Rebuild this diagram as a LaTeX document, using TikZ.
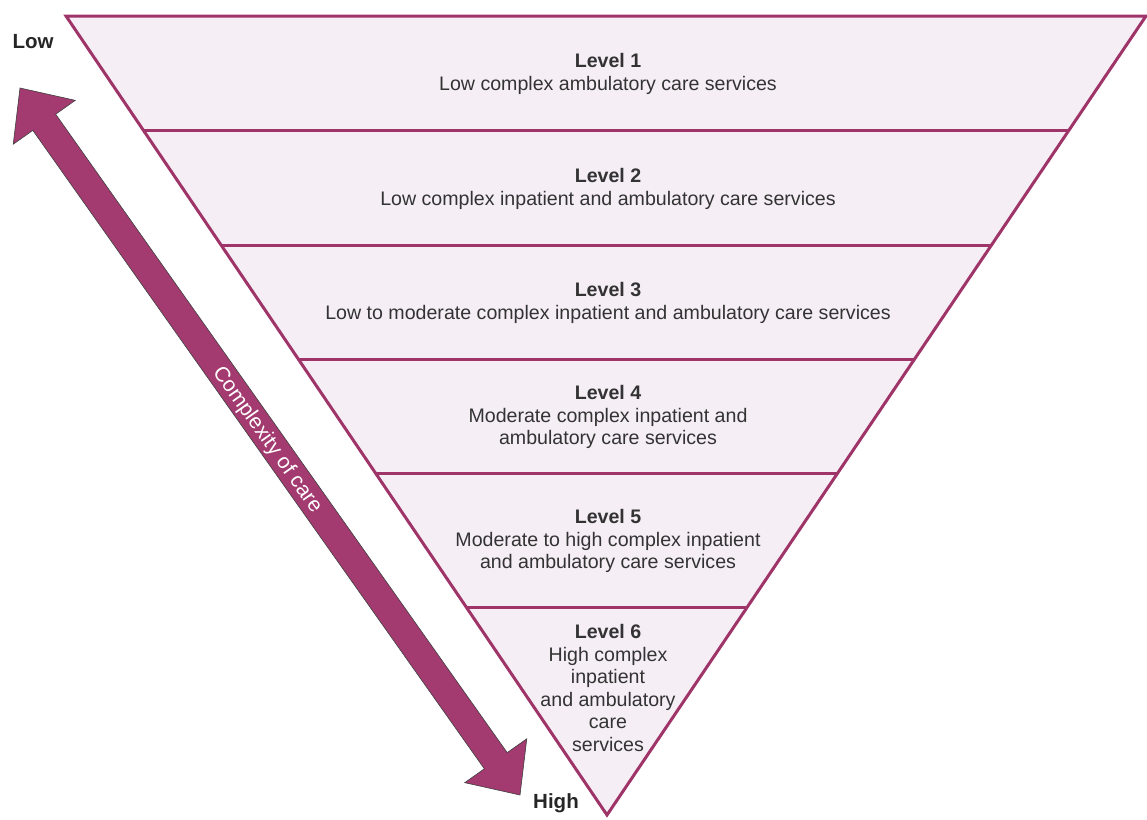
\documentclass[tikz,border=0pt]{standalone}
\usepackage{fontspec}
\setmainfont{Liberation Sans}
\usetikzlibrary{calc}
\definecolor{careline}{HTML}{9E3468}
\definecolor{carefill}{HTML}{F6EEF5}
\definecolor{carearrow}{HTML}{A33B70}
\definecolor{caretext}{HTML}{333333}
\tikzset{
  levelline/.style={draw=careline, line width=3pt},
  leveltext/.style={align=center, text=caretext, inner sep=0pt,
    font=\fontsize{19.6}{22.5}\selectfont},
  endlabel/.style={text=black!85, inner sep=0pt,
    font=\fontsize{20.5}{22}\selectfont\bfseries},
}
\begin{document}
\begin{tikzpicture}[x=1pt, y=-1pt]
        \useasboundingbox (0,0) rectangle (1147,819);
        % coordinates for the triangle
        \coordinate (topleft)  at (66,16);
        \coordinate (topright) at (1146,16);
        \coordinate (apex)     at (607,815);
        % coordinates for the level lines
        \coordinate (l1) at ($(topleft)!0.1439!(apex)$);
        \coordinate (r1) at ($(topright)!0.1439!(apex)$);
        \coordinate (l2) at ($(topleft)!0.2866!(apex)$);
        \coordinate (r2) at ($(topright)!0.2866!(apex)$);
        \coordinate (l3) at ($(topleft)!0.4305!(apex)$);
        \coordinate (r3) at ($(topright)!0.4305!(apex)$);
        \coordinate (l4) at ($(topleft)!0.5732!(apex)$);
        \coordinate (r4) at ($(topright)!0.5732!(apex)$);
        \coordinate (l5) at ($(topleft)!0.7397!(apex)$);
        \coordinate (r5) at ($(topright)!0.7397!(apex)$);
        % drawing the triangle
        \filldraw[levelline, fill=carefill] (topleft) -- (topright) -- (apex) -- cycle;
        \draw[levelline] (l1) -- (r1);
        \draw[levelline] (l2) -- (r2);
        \draw[levelline] (l3) -- (r3);
        \draw[levelline] (l4) -- (r4);
        \draw[levelline] (l5) -- (r5);
        % level texts
        \node[leveltext] (level1) at (608,74) {\textbf{Level 1}\\Low complex ambulatory care services};
        \node[leveltext] (level2) at (608,189) {\textbf{Level 2}\\Low complex inpatient and ambulatory care services};
        \node[leveltext] (level3) at (608,303) {\textbf{Level 3}\\Low to moderate complex inpatient and ambulatory care services};
        \node[leveltext] (level4) at (608,417) {\textbf{Level 4}\\Moderate complex inpatient and\\ambulatory care services};
        \node[leveltext] (level5) at (608,541) {\textbf{Level 5}\\Moderate to high complex inpatient\\and ambulatory care services};
        \node[leveltext] (level6) at (608,688) {\textbf{Level 6}\\High complex\\inpatient\\and ambulatory\\care\\services};
        % complexity arrow
        \begin{scope}[shift={(270,441.5)}, rotate=-54.73]
          \filldraw[fill=carearrow, draw=black!75, line width=0.6pt, line join=miter]
            (-433,0) -- (-391,38) -- (-391,14) -- (391,14) -- (391,38) -- (433,0)
            -- (391,-38) -- (391,-14) -- (-391,-14) -- (-391,-38) -- cycle;
        \end{scope}
        \node[text=white, inner sep=0pt, rotate=-54.73,
          font=\fontsize{21}{22}\selectfont] (complexity) at (267,440) {Complexity of care};
        % end labels
        \node[endlabel] (low)  at (33,42)  {Low};
        \node[endlabel] (high) at (556,803) {High};
\end{tikzpicture}
\end{document}
